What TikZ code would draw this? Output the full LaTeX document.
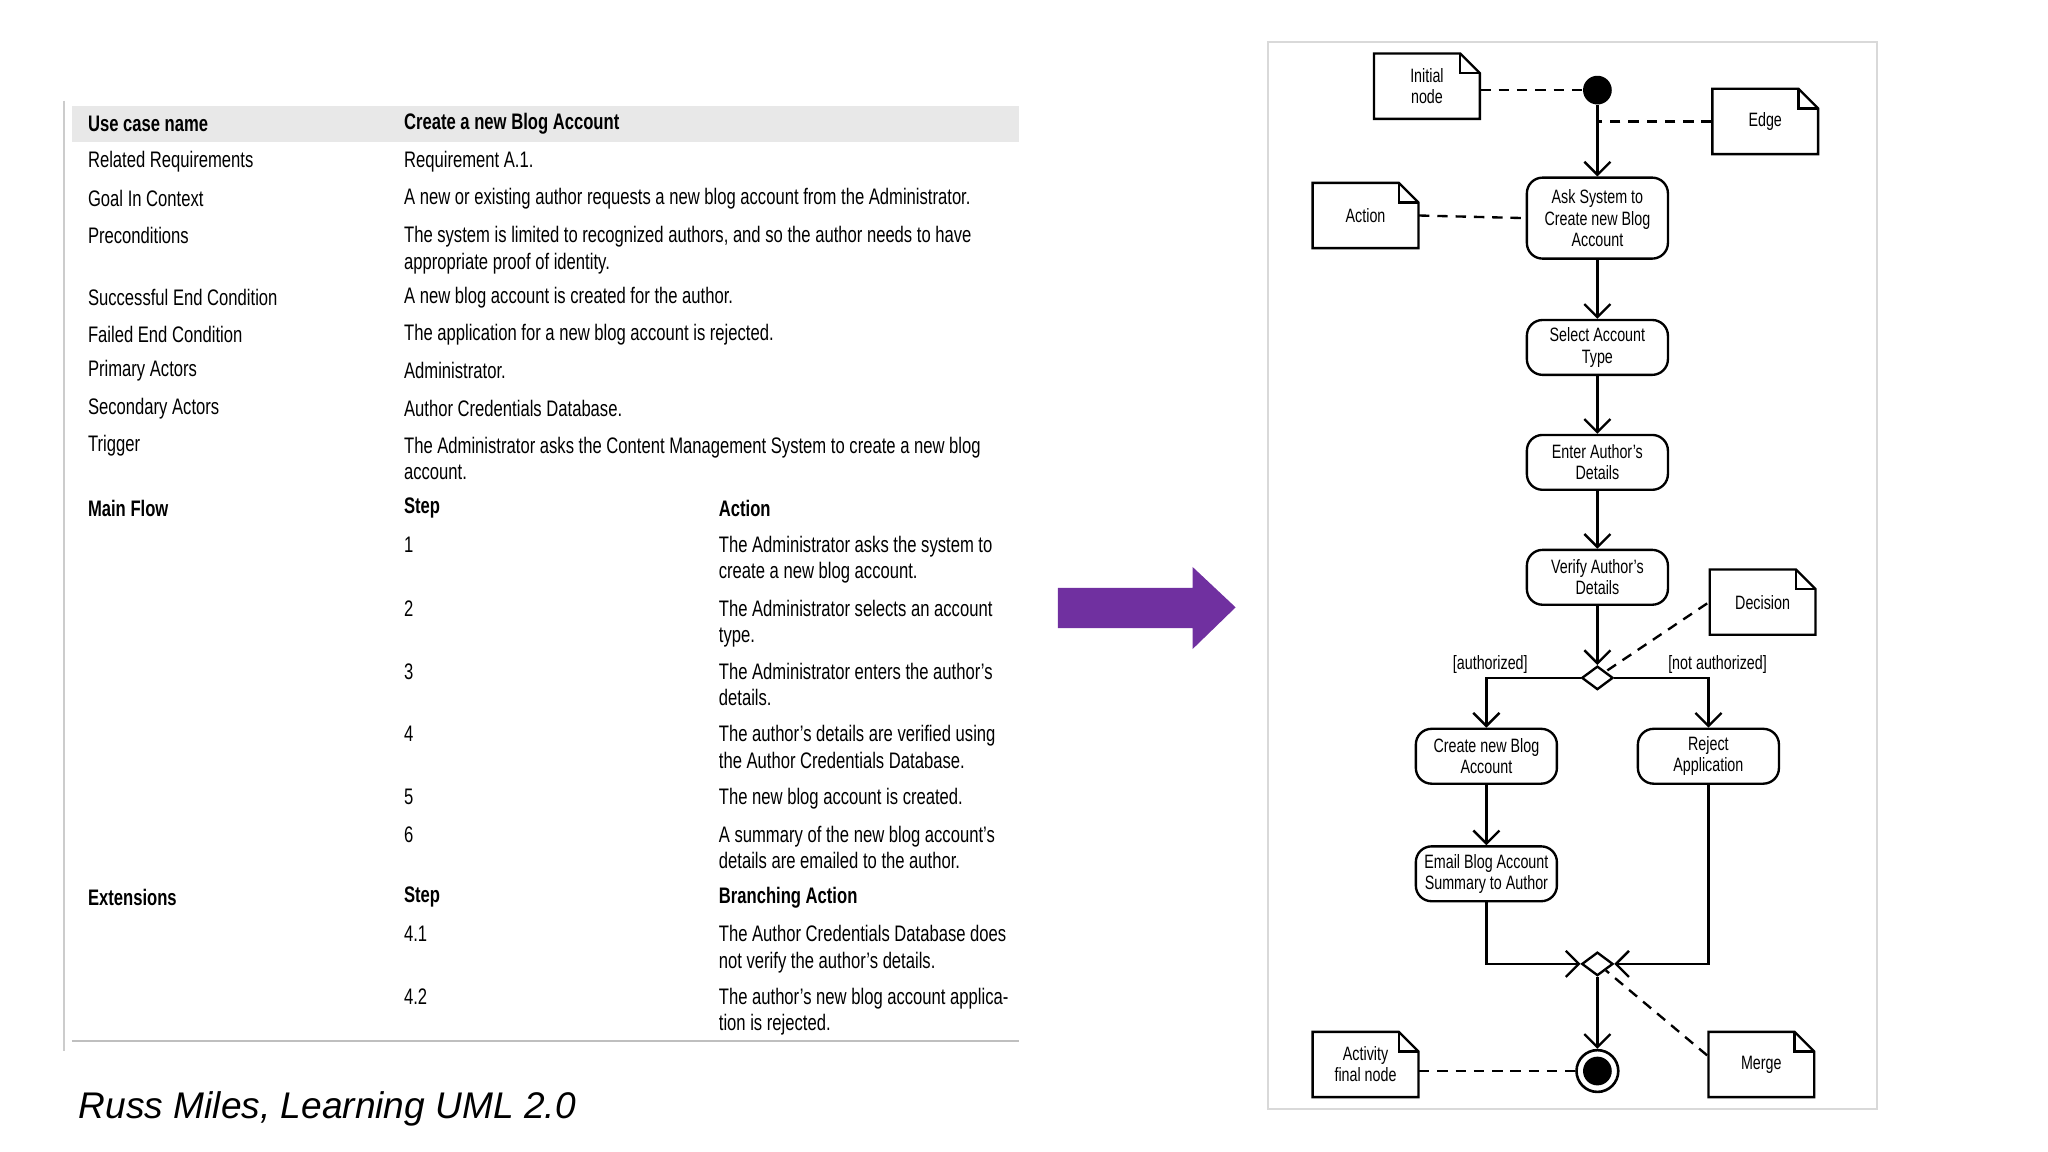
\documentclass[tikz,border=0pt]{standalone}
\usepackage{fontspec}
\setmainfont{Liberation Sans}[FakeStretch=0.74]
\newfontfamily\capfont{Liberation Sans}
\usetikzlibrary{arrows.meta,shapes.geometric}
\definecolor{purp}{HTML}{7030A0}
\tikzset{
 tx/.style={anchor=west,inner sep=0pt,font=\fontsize{8.6}{10.2}\selectfont,align=left},
 txb/.style={tx,font=\fontsize{8.6}{10.2}\selectfont\bfseries},
 act/.style={draw,rounded corners=6pt,line width=0.9pt,minimum width=54pt,minimum height=21pt,inner sep=1pt,align=center,font=\fontsize{7.4}{8.1}\selectfont},
 dia/.style={draw,diamond,line width=0.9pt,minimum width=12pt,minimum height=9pt,inner sep=0pt},
 flow/.style={line width=0.9pt,-{Straight Barb[length=5pt,width=10pt]}},
 dsh/.style={line width=0.9pt,dash pattern=on 4pt off 3pt},
 lab/.style={font=\fontsize{7.4}{8}\selectfont,inner sep=0pt}
}
\newcommand\mynote[6]{% name, x1,y1,x2,y2,text
 \draw[line width=0.9pt] (#2,#3) -- ({#4-15},#3) -- (#4,{#3+15}) -- (#4,#5) -- (#2,#5) -- cycle;
 \draw[line width=0.9pt] ({#4-15},#3) -- ({#4-15},{#3+15}) -- (#4,{#3+15});
 \node[inner sep=0pt,align=center,font=\fontsize{7.4}{8.1}\selectfont,minimum width={(#4-#2)*0.5pt},minimum height={(#5-#3)*0.5pt}] (#1) at ({(#2+#4)/2},{(#3+#5)/2}) {#6};}
\begin{document}
\begin{tikzpicture}[x=0.5pt,y=-0.5pt]
\useasboundingbox (0,0) rectangle (1568,882);
% table
\fill[gray!18] (55,81) rectangle (780,109);
\draw[gray!40,line width=1pt] (49,77) -- (49,805);
\draw[gray!50,line width=0.6pt] (55,797) -- (780,797);
\node[txb] (t0a) at (67,95) {Use case name};
\node[txb] (t0b) at (309,95) {Create a new Blog Account};
\foreach \y/\a/\b in {124/Related Requirements/Requirement A.1.,152/Goal In Context/A new or existing author requests a new blog account from the Administrator.,228/Successful End Condition/A new blog account is created for the author.,256/Failed End Condition/The application for a new blog account is rejected.,284/Primary Actors/Administrator.,313/Secondary Actors/Author Credentials Database.}{
 \node[tx] at (67,\y) {\a}; \node[tx] at (309,\y) {\b};}
\node[tx] (pa) at (67,180) {Preconditions};
\node[tx,anchor=north west] (pb) at (309,173) {The system is limited to recognized authors, and so the author needs to have\\appropriate proof of identity.};
\node[tx] (ta) at (67,341) {Trigger};
\node[tx,anchor=north west] (tb) at (309,334) {The Administrator asks the Content Management System to create a new blog\\account.};
\node[txb] at (67,389) {Main Flow};
\node[txb] at (309,389) {Step};
\node[txb] at (550,389) {Action};
\foreach \y/\s/\t in {417/1/The Administrator asks the system to\\create a new blog account.,466/2/The Administrator selects an account\\type.,514/3/The Administrator enters the author's\\details.,562/4/The author's details are verified using\\the Author Credentials Database.,610/5/The new blog account is created.,639/6/A summary of the new blog account's\\details are emailed to the author.}{
 \node[tx] at (309,\y) {\s}; \node[tx,anchor=north west] at (550,{\y-7}) {\t};}
\node[txb] at (67,687) {Extensions};
\node[txb] at (309,687) {Step};
\node[txb] at (550,687) {Branching Action};
\node[tx] at (309,715) {4.1};
\node[tx,anchor=north west] at (550,708) {The Author Credentials Database does\\not verify the author's details.};
\node[tx] at (309,763) {4.2};
\node[tx,anchor=north west] at (550,756) {The author's new blog account applica-\\tion is rejected.};
\node[anchor=west,inner sep=0pt,font=\capfont\fontsize{14.2}{17}\selectfont\itshape] (cap) at (60,849) {Russ Miles, Learning UML 2.0};
% arrow
\fill[purp] (810,450) -- (913,450) -- (913,434) -- (946,465) -- (913,497) -- (913,481) -- (810,481) -- cycle;
% diagram
\draw[gray!30,line width=0.6pt] (971,32) rectangle (1437,849);
\node[circle,fill=black,minimum size=11pt,inner sep=0pt] (init) at (1223,69) {};
\node[act,minimum height=31pt] (ask) at (1223,167) {Ask System to\\Create new Blog\\Account};
\node[act] (sel) at (1223,266) {Select Account\\Type};
\node[act] (ent) at (1223,354) {Enter Author's\\Details};
\node[act] (ver) at (1223,442) {Verify Author's\\Details};
\node[dia] (dec) at (1223,519) {};
\node[act] (cre) at (1138,579) {Create new Blog\\Account};
\node[act] (rej) at (1308,579) {Reject\\Application};
\node[act] (ema) at (1138,669) {Email Blog Account\\Summary to Author};
\node[dia] (mer) at (1223,738) {};
\node[circle,draw,line width=1pt,minimum size=16pt,inner sep=0pt] (fin) at (1223,820) {};
\fill (fin) circle (5.5pt);
\mynote{nInit}{1052}{41}{1133}{91}{Initial\\node}
\mynote{nEdge}{1311}{68}{1392}{118}{Edge}
\mynote{nAct}{1005}{140}{1086}{190}{Action}
\mynote{nDec}{1309}{436}{1390}{486}{Decision}
\mynote{nFin}{1005}{790}{1086}{840}{Activity\\final node}
\mynote{nMer}{1308}{790}{1389}{840}{Merge}
\coordinate (eg) at (1223,93);
\draw[flow] (init) -- (ask);
\draw[flow] (ask) -- (sel);
\draw[flow] (sel) -- (ent);
\draw[flow] (ent) -- (ver);
\draw[flow] (ver) -- (dec);
\draw[flow] (dec.west) -| (cre.north);
\draw[flow] (dec.east) -| (rej.north);
\draw[flow] (cre) -- (ema);
\draw[flow] (ema.south) |- (mer.west);
\draw[flow] (rej.south) |- (mer.east);
\draw[flow] (mer) -- (fin);
\node[lab] (ga) at (1141,509) {[authorized]};
\node[lab] (gb) at (1315,509) {[not authorized]};
\draw[dsh] (nInit.east |- init) -- (init);
\draw[dsh] (nEdge.west) -- (eg);
\draw[dsh] (nAct.east) -- (ask.west);
\draw[dsh] (1307,462) -- (dec.north east);
\draw[dsh] (nFin.east |- fin) -- (fin);
\draw[dsh] (1307,808) -- (mer.south east);
\end{tikzpicture}
\end{document}
